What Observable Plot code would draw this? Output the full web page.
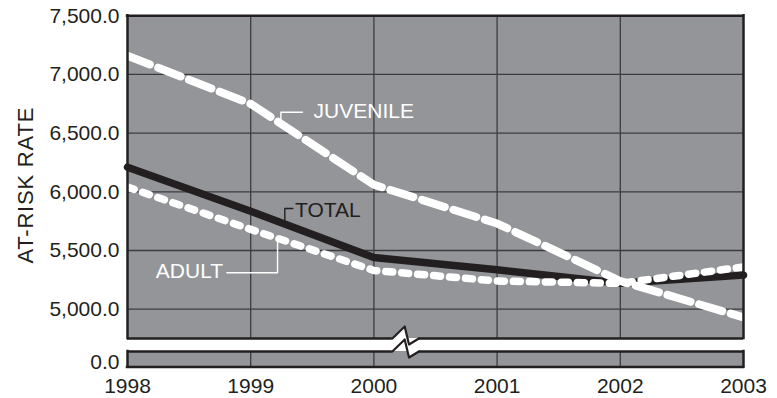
<!DOCTYPE html>
<html>
<head>
<meta charset="utf-8">
<script src="https://cdn.jsdelivr.net/npm/d3@7"></script>
<script src="https://cdn.jsdelivr.net/npm/@observablehq/plot@0.6"></script>
<style>
  html, body { margin: 0; padding: 0; background: #ffffff; }
  #chart { width: 777px; height: 398px; }
  #chart svg { overflow: visible; }
</style>
</head>
<body>
<div id="chart"></div>
<script>
// ---- data ----
const years    = [1998, 1999, 2000, 2001, 2002, 2003];
const juvenile = [7160, 6750, 6060, 5730, 5240, 4930];
const total    = [6210, 5835, 5440, 5335, 5220, 5290];
const adult    = [6040, 5680, 5330, 5240, 5220, 5360];

const yTickValues = [0, 5000, 5500, 6000, 6500, 7000, 7500];
const gridValues  = [5000, 5500, 6000, 6500, 7000];
const gridYears   = [1999, 2000, 2001, 2002];

const seriesNames  = ["JUVENILE", "TOTAL", "ADULT"];
const labelYears   = [1999.51, 1999.36, 1998.23];
const labelValues  = [6690, 5845, 5325];

// broken axis: lower strip holds 0, upper panel 4,750 – 7,500
const lowerPanel = [-50, 100];
const upperPanel = [4750, 7500];
const breakYears = [2000.15, 2000.25, 2000.285, 2000.365];
const breakTop   = [4750, 4852, 2604, 4750];
const breakBot   = [100, 4392, 42, 100];

// leader lines (year, value)
const juvLeaderX = [1999.245, 1999.245, 1999.42];
const juvLeaderY = [6585, 6678, 6678];
const totLeaderX = [1999.277, 1999.277, 1999.342];
const totLeaderY = [5756, 5858, 5858];
const adlLeaderX = [1998.806, 1999.218, 1999.218];
const adlLeaderY = [5310, 5310, 5571];

// ---- build tables ----
const rows = (ys) => years.map((x, i) => ({x, y: ys[i]}));
const pts = (xs, ys) => xs.map((x, i) => ({x, y: ys[i]}));
const panels = [
  {x1: years[0], x2: years[years.length - 1], y1: upperPanel[0], y2: upperPanel[1]},
  {x1: years[0], x2: years[years.length - 1], y1: lowerPanel[0], y2: lowerPanel[1]}
];
const breakRows = breakYears.map((x, i) => ({x, a: breakTop[i], b: breakBot[i]}));
const labels = seriesNames.map((t, i) => ({t, x: labelYears[i], y: labelValues[i]}));

const X0 = years[0], X1 = years[years.length - 1];
const gray = "#939598";
const ink = "#231f20";
const grid = "#3c3c3e";

const chart = Plot.plot({
  width: 777,
  height: 398,
  marginLeft: 127,
  marginRight: 34,
  marginTop: 15,
  marginBottom: 31.5,
  style: {fontFamily: "'Liberation Sans', Arial, Helvetica, sans-serif", fontSize: "21px", color: ink, background: "#ffffff", overflow: "visible"},
  x: {domain: [X0, X1], ticks: years, tickFormat: d => String(d), tickSize: 0, tickPadding: 11, label: null},
  y: {
    type: "linear",
    domain: [lowerPanel[0], lowerPanel[1], upperPanel[0], upperPanel[1]],
    range: [366.5, 351, 338, 15.3],
    ticks: yTickValues,
    tickFormat: d3.format(",.1f"),
    tickSize: 0,
    tickPadding: 8,
    label: null
  },
  marks: [
    // panel backgrounds
    Plot.rect(panels, {x1: "x1", x2: "x2", y1: "y1", y2: "y2", fill: gray}),
    // gridlines
    Plot.ruleY(gridValues, {x1: X0, x2: X1, stroke: grid, strokeWidth: 1.3}),
    Plot.ruleX(gridYears, {y1: upperPanel[0], y2: upperPanel[1], stroke: grid, strokeWidth: 1.3}),
    Plot.ruleX(gridYears, {y1: lowerPanel[0], y2: lowerPanel[1], stroke: grid, strokeWidth: 1.3}),
    // series
    Plot.line(rows(total), {x: "x", y: "y", stroke: ink, strokeWidth: 7.5}),
    Plot.line(rows(adult), {x: "x", y: "y", stroke: "#ffffff", strokeWidth: 7.5, strokeDasharray: "7,9"}),
    Plot.line(rows(juvenile), {x: "x", y: "y", stroke: "#ffffff", strokeWidth: 8, strokeDasharray: "24,9"}),
    // frame borders
    Plot.ruleY([upperPanel[1], lowerPanel[0]], {x1: X0, x2: X1, stroke: ink, strokeWidth: 2.5, strokeLinecap: "square"}),
    Plot.ruleX([X0, X1], {y1: upperPanel[0], y2: upperPanel[1], stroke: ink, strokeWidth: 2.5, strokeLinecap: "square"}),
    Plot.ruleX([X0, X1], {y1: lowerPanel[0], y2: lowerPanel[1], stroke: ink, strokeWidth: 2.5, strokeLinecap: "square"}),
    Plot.ruleY([upperPanel[0], lowerPanel[1]], {x1: X0, x2: breakYears[0], stroke: ink, strokeWidth: 2.5}),
    Plot.ruleY([upperPanel[0], lowerPanel[1]], {x1: breakYears[3], x2: X1, stroke: ink, strokeWidth: 2.5}),
    // axis break symbol
    Plot.areaY(breakRows, {x: "x", y1: "a", y2: "b", fill: "#ffffff", curve: "linear"}),
    Plot.line(breakRows, {x: "x", y: "a", stroke: ink, strokeWidth: 2.2, curve: "linear"}),
    Plot.line(breakRows, {x: "x", y: "b", stroke: ink, strokeWidth: 2.2, curve: "linear"}),
    // leader lines
    Plot.line(pts(juvLeaderX, juvLeaderY), {x: "x", y: "y", stroke: "#ffffff", strokeWidth: 1.4}),
    Plot.line(pts(totLeaderX, totLeaderY), {x: "x", y: "y", stroke: ink, strokeWidth: 1.4}),
    Plot.line(pts(adlLeaderX, adlLeaderY), {x: "x", y: "y", stroke: "#ffffff", strokeWidth: 1.4}),
    // series labels
    Plot.text(labels, {x: "x", y: "y", text: "t", textAnchor: "start", fontSize: 21,
      fill: d => d.t === "TOTAL" ? ink : "#ffffff"}),
    // y axis title
    Plot.text(["AT-RISK RATE"], {frameAnchor: "left", textAnchor: "middle", rotate: -90, dx: -102, dy: -6, fontSize: 22, fill: ink})
  ]
});
chart.querySelectorAll("text").forEach(t => {
  if (t.textContent === "AT-RISK RATE") t.setAttribute("letter-spacing", "0.8");
});
document.getElementById("chart").appendChild(chart);
</script>
</body>
</html>
